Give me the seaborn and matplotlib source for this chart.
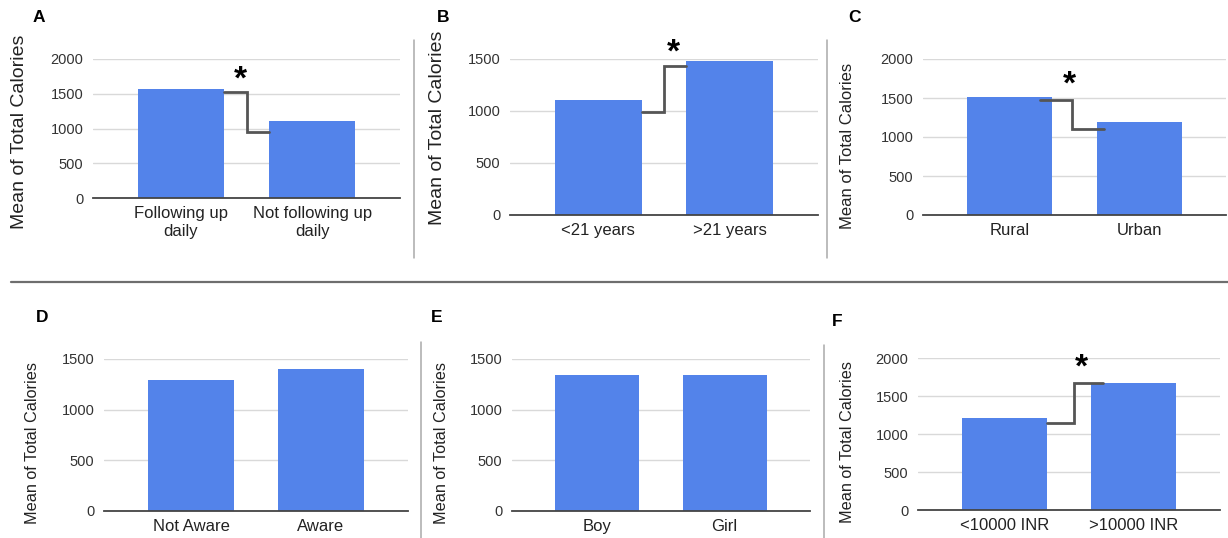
#!/usr/bin/env python3
import numpy as np
import pandas as pd
import matplotlib
matplotlib.use("Agg")
import matplotlib.pyplot as plt
from matplotlib.lines import Line2D
import seaborn as sns

# values
cats_a = ["Following up\ndaily", "Not following up\ndaily"]
vals_a = [1568, 1108]
cats_b = ["<21 years", ">21 years"]
vals_b = [1106, 1481]
cats_c = ["Rural", "Urban"]
vals_c = [1513, 1192]
cats_d = ["Not Aware", "Aware"]
vals_d = [1293, 1401]
cats_e = ["Boy", "Girl"]
vals_e = [1342, 1342]
cats_f = ["<10000 INR", ">10000 INR"]
vals_f = [1210, 1671]

ymax_a, ymax_b, ymax_c = 2000, 1500, 2000
ymax_d, ymax_e, ymax_f = 1500, 1500, 2000

# significance brackets: (x positions in category units, left level, right level)
bracket_a = ([0.33, 0.50, 0.67], [1525, 950])
bracket_b = ([0.33, 0.50, 0.67], [990, 1433])
bracket_c = ([0.23, 0.48, 0.73], [1474, 1106])
bracket_f = ([0.33, 0.54, 0.76], [1145, 1671])
star_a = (0.45, 1700)
star_b = (0.57, 1560)
star_c = (0.46, 1670)
star_f = (0.60, 1870)

W, H = 1228, 538
BLUE = "#5383EA"
GRAY = "#555555"

sns.set_theme(style="white")
plt.rcParams["font.family"] = ["Liberation Sans", "DejaVu Sans"]

fig = plt.figure(figsize=(W / 100, H / 100), dpi=100, facecolor="white")


def px_rect(l, t, r, b):
    return [l / W, 1 - b / H, (r - l) / W, (b - t) / H]


panels = [
    ("A", cats_a, vals_a, ymax_a, (93, 59, 400, 198), (33, 17), (20, 132), 14, bracket_a, star_a),
    ("B", cats_b, vals_b, ymax_b, (510, 59, 818, 215), (437, 17), (437, 128), 14, bracket_b, star_b),
    ("C", cats_c, vals_c, ymax_c, (923, 59, 1226, 215), (848, 17), (847, 146), 12, bracket_c, star_c),
    ("D", cats_d, vals_d, ymax_d, (104, 359, 408, 511), (36, 318), (33, 443), 11.7, None, None),
    ("E", cats_e, vals_e, ymax_e, (512, 359, 810, 511), (431, 318), (442, 443), 11.7, None, None),
    ("F", cats_f, vals_f, ymax_f, (918, 358, 1220, 510), (832, 322), (848, 442), 11.7, bracket_f, star_f),
]

for letter, cats, vals, ymax, rect, lpos, ylpos, ylsize, bracket, star in panels:
    ax = fig.add_axes(px_rect(*rect))
    df = pd.DataFrame({"group": cats, "calories": vals})
    sns.barplot(data=df, x="group", y="calories", ax=ax, color=BLUE,
                saturation=1, width=0.66, linewidth=0)
    ax.set_xlim(-0.67, 1.67)
    ax.set_ylim(0, ymax)
    ax.set_yticks(np.arange(0, ymax + 1, 500))
    ax.yaxis.grid(True, color="#d9d9d9", linewidth=1)
    ax.set_axisbelow(True)
    for s in ["top", "right", "left"]:
        ax.spines[s].set_visible(False)
    ax.spines["bottom"].set_color("#444444")
    ax.spines["bottom"].set_linewidth(1.3)
    ax.tick_params(axis="y", length=0, pad=7, labelsize=10.5, labelcolor="#333333")
    ax.tick_params(axis="x", length=0, pad=6, labelsize=12, labelcolor="#222222")
    ax.set_xlabel("")
    ax.set_ylabel("Mean of Total Calories", fontsize=ylsize, color="#222222")
    ax.yaxis.set_label_coords(ylpos[0] / W, 1 - ylpos[1] / H, transform=fig.transFigure)
    ax.yaxis.label.set_va("center")

    if bracket is not None:
        bx, (y0, y1) = bracket
        ax.plot([bx[0], bx[1], bx[1], bx[2]], [y0, y0, y1, y1],
                color=GRAY, linewidth=2, solid_joinstyle="miter")
        ax.text(star[0], star[1], "*", fontsize=24, fontweight="bold",
                ha="center", va="center", color="black", clip_on=False)

    fig.text(lpos[0] / W, 1 - lpos[1] / H, letter, fontsize=12.5, fontweight="bold",
             ha="left", va="center", color="black")

# panel separators
seps = [
    ((414, 40), (414, 258), "#aaaaaa", 1.1),
    ((827, 40), (827, 258), "#aaaaaa", 1.1),
    ((421, 342), (421, 538), "#aaaaaa", 1.1),
    ((824, 345), (824, 538), "#aaaaaa", 1.1),
    ((11, 282), (1228, 282), "#6e6e6e", 1.6),
]
for (x0, y0), (x1, y1), c, lw in seps:
    fig.add_artist(Line2D([x0 / W, x1 / W], [1 - y0 / H, 1 - y1 / H],
                          color=c, linewidth=lw, transform=fig.transFigure))

fig.savefig("out.png", dpi=100, facecolor="white")
